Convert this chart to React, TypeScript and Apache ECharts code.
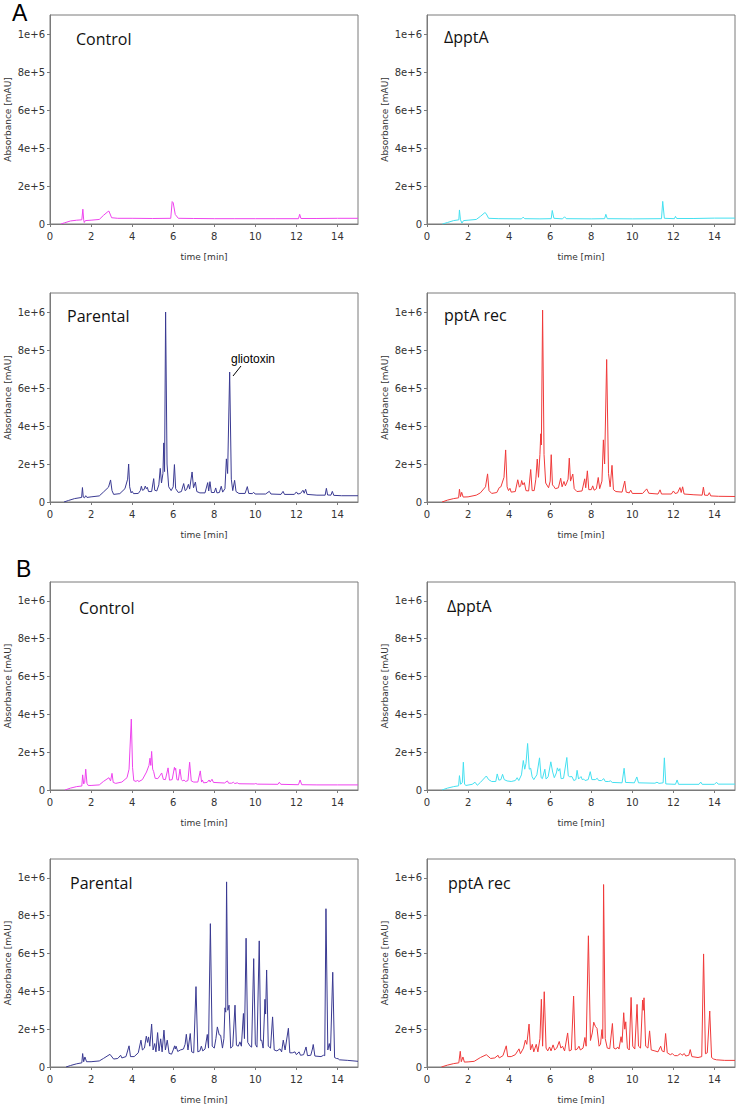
import React, { useEffect, useRef } from "react";
import * as echarts from "echarts";

// time [min], absorbance [thousand mAU]
const ctrlA: number[][] = [[0.53,0],[0.7,6],[1.0,16],[1.3,20],[1.55,22],[1.6,78],[1.64,22],[1.67,8],[1.72,18],[2.0,20],[2.4,24],[2.6,45],[2.82,65],[2.87,68],[3.0,33],[3.3,30],[4,30],[5,29],[5.88,30],[5.95,118],[6.0,112],[6.1,50],[6.25,30],[7,29],[8,28],[9,28],[10,28],[11,28],[12.1,28],[12.16,51],[12.22,29],[13,29],[14,30],[15,30]];
const deltaA: number[][] = [[0.75,0],[1.0,8],[1.3,18],[1.55,22],[1.58,74],[1.63,22],[1.7,5],[1.78,18],[2.0,20],[2.4,24],[2.6,40],[2.82,60],[2.88,55],[3.0,30],[3.5,28],[4.6,27],[4.68,36],[4.76,28],[5.5,27],[6.05,28],[6.1,71],[6.18,30],[6.6,27],[6.7,38],[6.78,28],[8.0,27],[8.65,28],[8.71,51],[8.78,28],[10,27],[11.42,28],[11.48,119],[11.56,30],[12.05,28],[12.1,40],[12.16,29],[13,29],[14,31],[15,31]];
const parA: number[][] = [[0.68,0],[0.9,8],[1.2,18],[1.54,24],[1.58,76],[1.62,26],[1.68,22],[1.74,33],[1.8,24],[2.0,27],[2.4,32],[2.6,52],[2.85,78],[2.95,116],[3.02,60],[3.1,40],[3.4,44],[3.65,70],[3.78,120],[3.83,200],[3.88,80],[3.95,48],[4.0,56],[4.07,44],[4.3,45],[4.4,60],[4.45,83],[4.5,62],[4.58,65],[4.64,84],[4.69,70],[4.74,77],[4.8,55],[4.95,55],[5.05,123],[5.1,62],[5.2,58],[5.3,90],[5.37,177],[5.43,100],[5.5,150],[5.54,311],[5.58,160],[5.63,1000],[5.7,200],[5.78,80],[5.9,60],[6.0,80],[6.06,197],[6.12,70],[6.25,50],[6.4,55],[6.51,97],[6.58,60],[6.65,65],[6.74,93],[6.8,68],[6.92,158],[6.99,75],[7.08,105],[7.15,55],[7.3,48],[7.55,48],[7.68,102],[7.73,58],[7.79,107],[7.86,50],[8.0,50],[8.07,74],[8.13,48],[8.25,50],[8.34,83],[8.41,52],[8.52,70],[8.59,227],[8.65,150],[8.75,684],[8.83,120],[8.9,60],[8.99,114],[9.06,55],[9.2,45],[9.5,45],[9.61,81],[9.68,45],[9.85,44],[9.92,51],[9.99,42],[10.5,42],[10.68,56],[10.76,42],[11.25,40],[11.35,56],[11.42,40],[11.9,40],[12.0,53],[12.07,42],[12.2,45],[12.32,62],[12.38,46],[12.45,67],[12.52,40],[13.0,36],[13.4,36],[13.46,72],[13.52,37],[13.68,36],[13.75,56],[13.82,35],[14.2,33],[15,33]];
const recA: number[][] = [[0.73,0],[1.0,10],[1.3,18],[1.54,22],[1.58,67],[1.63,28],[1.69,51],[1.76,26],[2.0,27],[2.4,36],[2.6,48],[2.85,80],[2.95,148],[3.02,60],[3.15,45],[3.4,50],[3.52,76],[3.6,80],[3.75,130],[3.83,274],[3.9,80],[3.97,60],[4.04,72],[4.1,52],[4.3,55],[4.42,117],[4.5,78],[4.56,85],[4.61,113],[4.67,90],[4.74,102],[4.82,60],[4.95,58],[5.05,171],[5.12,60],[5.22,60],[5.3,120],[5.37,226],[5.43,130],[5.5,250],[5.54,359],[5.57,300],[5.63,1010],[5.7,250],[5.78,100],[5.92,75],[6.0,110],[6.05,249],[6.11,90],[6.17,83],[6.25,70],[6.4,75],[6.51,125],[6.58,80],[6.67,108],[6.74,85],[6.8,100],[6.87,120],[6.93,231],[6.99,110],[7.1,147],[7.17,70],[7.3,55],[7.55,58],[7.68,122],[7.73,75],[7.81,164],[7.88,65],[8.0,65],[8.07,85],[8.14,62],[8.25,70],[8.34,129],[8.41,70],[8.52,110],[8.59,327],[8.65,200],[8.75,750],[8.84,150],[8.92,80],[9.01,193],[9.08,65],[9.2,55],[9.5,52],[9.63,110],[9.7,52],[9.85,48],[9.92,62],[10.0,45],[10.5,45],[10.7,69],[10.8,46],[11.25,42],[11.35,64],[11.42,42],[11.9,42],[12.0,58],[12.08,45],[12.2,48],[12.32,76],[12.38,50],[12.45,80],[12.52,42],[13.0,38],[13.4,36],[13.46,78],[13.52,36],[13.68,35],[13.75,49],[13.82,32],[14.2,30],[15,29]];
const ctrlB: number[][] = [[0.73,0],[1.0,10],[1.3,18],[1.55,21],[1.59,80],[1.64,32],[1.69,40],[1.74,110],[1.8,35],[1.86,24],[2.0,24],[2.4,27],[2.6,45],[2.87,65],[2.95,48],[3.02,88],[3.08,40],[3.2,35],[3.5,42],[3.75,65],[3.85,110],[3.96,375],[4.02,120],[4.08,50],[4.2,45],[4.26,53],[4.32,44],[4.5,55],[4.7,95],[4.82,130],[4.87,168],[4.91,130],[4.95,204],[5.0,110],[5.05,97],[5.12,62],[5.25,60],[5.35,75],[5.44,90],[5.52,56],[5.62,55],[5.75,117],[5.82,52],[5.95,55],[6.06,120],[6.09,105],[6.12,115],[6.18,55],[6.25,52],[6.33,110],[6.4,55],[6.46,48],[6.53,53],[6.6,45],[6.72,50],[6.8,147],[6.88,48],[7.0,42],[7.2,42],[7.32,101],[7.38,42],[7.42,53],[7.48,38],[7.65,40],[7.75,53],[7.8,42],[7.89,57],[7.96,40],[8.5,37],[8.64,48],[8.7,36],[8.85,36],[8.93,41],[9.0,34],[9.12,38],[9.2,33],[9.95,32],[10.02,34],[10.1,31],[11.1,30],[11.17,41],[11.24,30],[12.1,28],[12.18,53],[12.26,28],[13,27],[14,27],[15,27]];
const deltaB: number[][] = [[0.73,0],[1.0,10],[1.3,18],[1.54,22],[1.58,76],[1.64,30],[1.72,40],[1.77,147],[1.83,30],[1.9,24],[2.2,30],[2.34,41],[2.45,25],[2.6,40],[2.89,74],[3.0,55],[3.15,45],[3.35,45],[3.42,85],[3.5,52],[3.6,55],[3.68,83],[3.76,55],[3.9,48],[4.1,45],[4.3,50],[4.39,65],[4.47,50],[4.6,80],[4.69,156],[4.76,110],[4.82,140],[4.9,246],[4.98,110],[5.05,115],[5.12,70],[5.2,55],[5.35,80],[5.48,170],[5.56,65],[5.62,60],[5.74,110],[5.8,58],[5.9,70],[6.03,149],[6.12,95],[6.2,65],[6.3,90],[6.35,117],[6.41,100],[6.47,113],[6.53,60],[6.65,62],[6.81,172],[6.88,75],[6.95,70],[7.06,71],[7.15,50],[7.25,55],[7.31,104],[7.38,58],[7.5,71],[7.56,55],[7.63,58],[7.7,50],[7.85,55],[7.95,97],[8.03,55],[8.2,55],[8.29,62],[8.36,50],[8.5,50],[8.61,60],[8.68,45],[8.85,45],[8.94,48],[9.02,40],[9.5,38],[9.6,115],[9.67,40],[10.1,38],[10.22,69],[10.3,38],[11.1,36],[11.2,41],[11.3,35],[11.5,38],[11.56,170],[11.63,32],[12.1,30],[12.18,53],[12.25,30],[13.25,30],[13.33,42],[13.4,30],[14.0,30],[14.1,41],[14.18,31],[15,31]];
const parB: number[][] = [[0.78,0],[1.0,8],[1.3,17],[1.55,22],[1.59,71],[1.64,28],[1.66,25],[1.7,53],[1.78,28],[2.0,28],[2.4,32],[2.6,45],[2.92,67],[3.1,42],[3.3,45],[3.44,62],[3.5,48],[3.7,55],[3.85,112],[3.92,55],[4.1,55],[4.3,75],[4.43,142],[4.5,90],[4.6,100],[4.69,163],[4.75,130],[4.8,159],[4.86,110],[4.95,227],[5.02,90],[5.1,124],[5.16,80],[5.24,182],[5.31,85],[5.39,149],[5.46,80],[5.55,195],[5.62,90],[5.71,142],[5.8,72],[5.92,68],[6.0,90],[6.07,112],[6.1,95],[6.14,110],[6.22,82],[6.35,90],[6.5,95],[6.58,120],[6.64,173],[6.72,90],[6.83,177],[6.9,80],[7.0,75],[7.11,425],[7.2,80],[7.3,85],[7.37,110],[7.44,85],[7.55,95],[7.66,172],[7.72,100],[7.81,758],[7.9,110],[8.0,100],[8.08,150],[8.15,212],[8.24,170],[8.31,168],[8.4,100],[8.47,150],[8.52,313],[8.56,290],[8.6,979],[8.66,300],[8.72,327],[8.8,100],[8.9,110],[9.01,327],[9.08,115],[9.17,110],[9.25,133],[9.32,110],[9.42,283],[9.47,150],[9.55,681],[9.63,130],[9.75,110],[9.82,105],[9.92,573],[10.0,120],[10.08,105],[10.19,667],[10.26,140],[10.31,142],[10.38,100],[10.47,358],[10.5,280],[10.55,513],[10.63,110],[10.74,100],[10.84,265],[10.92,90],[11.05,85],[11.2,96],[11.28,80],[11.36,142],[11.45,90],[11.61,205],[11.68,75],[11.8,75],[11.93,80],[12.0,65],[12.13,80],[12.2,62],[12.35,65],[12.47,106],[12.54,60],[12.7,62],[12.78,95],[12.82,119],[12.9,58],[13.2,55],[13.32,62],[13.38,60],[13.44,837],[13.53,90],[13.6,124],[13.66,85],[13.77,501],[13.86,50],[13.95,45],[14.03,44],[14.1,38],[14.5,35],[15,30]];
const recB: number[][] = [[0.7,0],[1.0,10],[1.3,18],[1.55,22],[1.62,83],[1.67,28],[1.75,53],[1.82,26],[2.0,27],[2.3,30],[2.6,50],[2.89,65],[3.1,45],[3.3,48],[3.46,62],[3.52,48],[3.7,60],[3.86,112],[3.93,55],[4.1,55],[4.3,65],[4.48,96],[4.55,70],[4.7,100],[4.79,142],[4.86,120],[4.97,227],[5.04,90],[5.13,120],[5.2,80],[5.32,120],[5.4,80],[5.5,150],[5.57,358],[5.63,110],[5.71,398],[5.8,100],[5.88,85],[5.97,106],[6.04,85],[6.14,117],[6.22,90],[6.32,100],[6.44,135],[6.52,100],[6.6,110],[6.7,85],[6.85,180],[6.93,85],[7.03,90],[7.14,375],[7.22,90],[7.32,95],[7.4,110],[7.47,90],[7.6,100],[7.69,156],[7.75,110],[7.86,694],[7.96,140],[8.05,180],[8.12,237],[8.2,215],[8.28,204],[8.38,110],[8.45,120],[8.52,198],[8.56,150],[8.6,965],[8.68,150],[8.78,100],[8.9,97],[9.03,230],[9.1,100],[9.2,95],[9.29,106],[9.35,95],[9.45,160],[9.5,130],[9.58,287],[9.63,200],[9.68,239],[9.76,100],[9.85,90],[9.94,368],[10.02,110],[10.12,95],[10.23,331],[10.3,110],[10.4,100],[10.5,354],[10.53,300],[10.57,366],[10.65,110],[10.76,100],[10.84,191],[10.92,90],[11.1,85],[11.25,80],[11.38,110],[11.45,85],[11.55,80],[11.62,177],[11.7,75],[11.85,65],[11.95,71],[12.05,60],[12.2,60],[12.34,71],[12.42,62],[12.53,71],[12.6,58],[12.75,62],[12.82,92],[12.9,55],[13.2,50],[13.38,55],[13.47,598],[13.56,70],[13.65,75],[13.77,296],[13.86,50],[13.96,42],[14.1,38],[14.5,35],[15,35]];

const panelTraces = [ctrlA, deltaA, parA, recA, ctrlB, deltaB, parB, recB];
const panelNames = ["Control", "ΔpptA", "Parental", "pptA rec", "Control", "ΔpptA", "Parental", "pptA rec"];
const panelColors = ["#ee44ee", "#44e0f0", "#3a3a92", "#f03a3a", "#ee44ee", "#44e0f0", "#3a3a92", "#f03a3a"];
const xTicks = [0, 2, 4, 6, 8, 10, 12, 14];
const yTicks = [0, 200000, 400000, 600000, 800000, 1000000];
const yTickLabels = ["0", "2e+5", "4e+5", "6e+5", "8e+5", "1e+6"];

// layout
const colLeft = [50, 427];
const rowTop = [15, 293, 582, 859];
const plotW = 308;
const plotH = [209, 209, 208, 208];
const labelPos = [[76, 39], [444, 37], [67, 316], [444, 315], [79, 608], [447, 606], [70, 883], [448, 883]];

export default function App() {
  const ref = useRef<HTMLDivElement>(null);
  useEffect(() => {
    document.body.style.margin = "0";
    const chart = echarts.init(ref.current!, undefined, { renderer: "svg" });
    const grids: any[] = [];
    const xAxes: any[] = [];
    const yAxes: any[] = [];
    const series: any[] = [];
    const graphics: any[] = [];
    const axisColor = "#7a7a7a";
    const textColor = "#333";
    for (let i = 0; i < 8; i++) {
      const r = Math.floor(i / 2);
      const c = i % 2;
      grids.push({
        left: colLeft[c], top: rowTop[r], width: plotW, height: plotH[r],
        show: true, borderColor: axisColor, borderWidth: 1, backgroundColor: "transparent",
        containLabel: false,
      });
      xAxes.push({
        type: "value", gridIndex: i, min: 0, max: 15,
        name: "time [min]", nameLocation: "middle", nameGap: 28,
        nameTextStyle: { fontFamily: "DejaVu Sans", fontSize: 9, color: textColor },
        axisLine: { show: true, lineStyle: { color: axisColor, width: 1 } },
        axisTick: { show: true, length: 3, lineStyle: { color: axisColor }, customValues: xTicks },
        axisLabel: { fontFamily: "DejaVu Sans", fontSize: 10, color: textColor, margin: 7, customValues: xTicks },
        splitLine: { show: false },
      });
      yAxes.push({
        type: "value", gridIndex: i, min: 0, max: 1100000,
        name: "Absorbance [mAU]", nameLocation: "middle", nameGap: 38, nameRotate: 90,
        nameTextStyle: { fontFamily: "DejaVu Sans", fontSize: 9, color: textColor },
        axisLine: { show: true, lineStyle: { color: axisColor, width: 1 } },
        axisTick: { show: true, length: 3, lineStyle: { color: axisColor }, customValues: yTicks },
        axisLabel: {
          fontFamily: "DejaVu Sans", fontSize: 10, color: textColor, margin: 5, customValues: yTicks,
          formatter: (v: number) => {
            const k = yTicks.indexOf(v);
            return k >= 0 ? yTickLabels[k] : "";
          },
        },
        splitLine: { show: false },
      });
      series.push({
        type: "line", xAxisIndex: i, yAxisIndex: i, showSymbol: false, symbol: "none",
        data: panelTraces[i].map(([t, v]) => [t, v * 1000]),
        lineStyle: { color: panelColors[i], width: 1 },
        itemStyle: { color: panelColors[i] },
        clip: true,
      });
      graphics.push({
        type: "text", x: labelPos[i][0], y: labelPos[i][1],
        style: { text: panelNames[i], fontFamily: "Open Sans", fontSize: 16, fontWeight: "normal", fill: "#111", verticalAlign: "middle" },
      });
    }
    graphics.push({ type: "text", x: 12, y: 1, style: { text: "A", fontFamily: "Liberation Sans", fontSize: 23, fill: "#000" } });
    graphics.push({ type: "text", x: 16, y: 557, style: { text: "B", fontFamily: "Liberation Sans", fontSize: 23, fill: "#000" } });
    graphics.push({ type: "text", x: 231, y: 359, style: { text: "gliotoxin", fontFamily: "Liberation Sans", fontSize: 12, fill: "#000", verticalAlign: "middle" } });
    graphics.push({ type: "line", shape: { x1: 233, y1: 376, x2: 241, y2: 366 }, style: { stroke: "#000", lineWidth: 1 } });

    chart.setOption({
      animation: false,
      backgroundColor: "#fff",
      grid: grids,
      xAxis: xAxes,
      yAxis: yAxes,
      series,
      graphic: graphics,
    });
    return () => chart.dispose();
  }, []);
  return <div ref={ref} style={{ width: 737, height: 1105 }} />;
}
